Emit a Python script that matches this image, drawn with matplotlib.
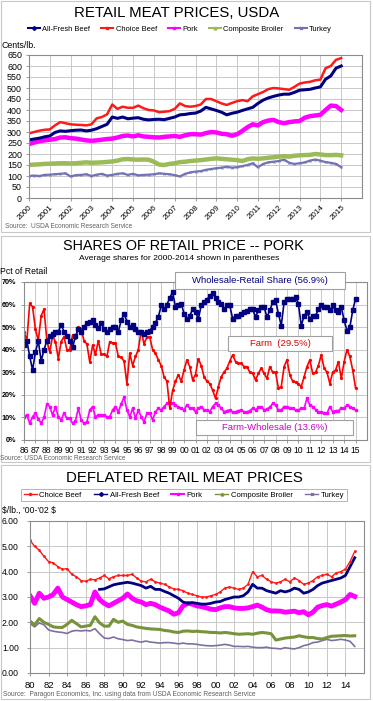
import numpy as np
import matplotlib
matplotlib.use('Agg')
import matplotlib.pyplot as plt
from matplotlib.lines import Line2D
from matplotlib.patches import Rectangle

plt.rcParams['font.family'] = ['Liberation Sans', 'DejaVu Sans']

W, H = 373, 701

# ---------------- Panel 1: retail meat prices (cents/lb), quarterly 2000-2015
p1_years = np.arange(2000, 2015.01, 0.25)
p1_choice = [294, 300, 306, 310, 312, 330, 345, 340, 335, 333, 332, 330,
             335, 362, 368, 380, 425, 405, 415, 410, 410, 420, 408, 400,
             398, 390, 392, 395, 405, 430, 418, 415, 418, 425, 450, 450,
             440, 430, 423, 432, 440, 445, 440, 462, 472, 482, 495, 500,
             498, 495, 492, 505, 520, 525, 528, 535, 538, 590, 600, 628,
             636]
p1_allfresh = [264, 268, 272, 278, 282, 298, 305, 303, 306, 308, 309, 305,
               308, 315, 325, 335, 368, 362, 368, 360, 363, 365, 358, 355,
               357, 358, 356, 362, 368, 378, 380, 384, 386, 395, 412, 405,
               398, 390, 378, 385, 390, 398, 405, 412, 430, 445, 455, 462,
               468, 472, 472, 480, 490, 492, 494, 500, 505, 540, 555, 590,
               600]
p1_pork = [245, 252, 258, 262, 265, 268, 275, 276, 272, 270, 266, 262,
           260, 262, 265, 268, 270, 275, 282, 284, 280, 285, 280, 278,
           276, 275, 278, 280, 282, 278, 285, 290, 290, 288, 295, 300,
           298, 292, 290, 283, 290, 305, 322, 335, 330, 345, 352, 355,
           345, 340, 345, 348, 350, 365, 372, 375, 378, 400, 420, 418,
           400]
p1_broiler = [150, 152, 153, 155, 156, 157, 158, 158, 157, 158, 160, 162,
              160, 161, 162, 164, 166, 170, 176, 177, 175, 174, 175, 174,
              165, 152, 150, 155, 158, 163, 165, 168, 170, 172, 175, 178,
              180, 178, 176, 174, 172, 168, 176, 180, 178, 180, 183, 185,
              188, 190, 188, 192, 194, 195, 196, 200, 198, 195, 195, 196,
              194]
p1_turkey = [100, 102, 100, 105, 106, 108, 110, 112, 98, 104, 105, 108,
             100, 106, 110, 102, 105, 110, 112, 105, 110, 103, 105, 106,
             108, 112, 110, 108, 104, 98, 110, 116, 120, 122, 128, 132,
             135, 138, 142, 138, 140, 145, 150, 158, 140, 155, 162, 165,
             168, 175, 160, 155, 158, 162, 170, 175, 170, 163, 160, 155,
             140]

# ---------------- Panel 2: shares of retail price, pork (%), quarterly 1986-2015
p2_years = np.arange(1986, 2015.01, 0.25)
p2_wholesale_retail = [
    42, 44, 37, 31, 39, 44, 35, 40, 44, 46, 47, 48, 48, 51, 48, 46,
    44, 41, 46, 49, 48, 50, 52, 52.5, 53, 51, 49.5, 52, 49, 48, 49, 50,
    50, 48, 53, 56, 52.5, 50, 51, 49, 48, 47.8, 47, 48, 48.5, 50, 52, 54.5,
    59.6, 58, 60, 63, 65.5, 59, 60, 60.4, 56, 53.7, 55, 58, 56.7, 53.7, 59.6, 61,
    62, 64, 65, 63, 61, 60.4, 58, 59.6, 59.6, 53.7, 55, 55, 56, 56.7, 57, 58,
    58, 54.5, 57.4, 59, 59, 54.5, 57.4, 61, 62, 56, 50.7, 61, 62.6, 62.6, 62.6, 63.3,
    60.4, 50.7, 55, 56.7, 53.7, 55, 55, 58, 59.6, 59, 59, 57.4, 59.6, 57.4, 56.7, 59,
    53, 48.5, 50, 57.4, 62.6]
p2_farm = [
    48, 44, 60.5, 59, 49, 44, 55, 58, 44, 39, 46, 43.6, 36, 43.6, 45.8, 40,
    40, 46.5, 45, 50, 49, 44, 42.5, 34.5, 42, 38, 44, 38, 38, 37, 43.6, 43,
    43, 37, 36.6, 35, 25, 38.4, 33, 37, 40, 48.5, 42.6, 45.6, 45.6, 40, 38.4, 35.5,
    33, 28, 26, 14, 22, 26, 29, 26, 31, 35.5, 32.5, 26.6, 29, 36, 33, 28,
    26, 25, 22, 18.5, 23.6, 28, 30, 31.8, 35, 37.7, 34.7, 34, 34, 32.5, 32.5, 30,
    29.5, 26.6, 29.5, 31.8, 29.5, 27.3, 32.5, 30, 30, 23, 23.6, 32.5, 35.5, 28.8, 26, 25.5,
    25, 23.6, 28, 32.5, 35.5, 29.5, 30, 33, 37.7, 31.8, 30, 25, 30, 31, 34.7, 27.3,
    34.7, 40, 37, 31, 23]
p2_farm_wholesale = [
    10.3, 11, 7.4, 10.3, 11.8, 9.5, 7.4, 10, 16, 14.8, 11, 14.8, 10.3, 8.9, 12, 9.6,
    9.6, 7.4, 8.5, 14, 9, 7.4, 8, 13.3, 14.8, 10.3, 11, 11, 11, 10.3, 10.3, 13.3,
    14.8, 12.5, 16, 19, 13.3, 10.3, 14, 9.6, 13.3, 10.3, 8, 11.8, 11.8, 8.9, 12.5, 14,
    13.3, 14.8, 16.2, 16.2, 16.2, 15.5, 14.5, 14, 13.3, 15.5, 14, 14, 12.5, 14, 14.8, 13.3,
    13.3, 12.5, 14.8, 16.2, 15.5, 14, 12.5, 13, 13.3, 12.5, 12.5, 13, 13.3, 12.5, 12.5, 13,
    14, 13.3, 14.5, 14.8, 13.3, 13.8, 14.5, 16.2, 15.5, 13.3, 13.3, 14.8, 14.8, 14, 14, 13.3,
    13.3, 14, 14, 18.5, 15.5, 14.8, 13.5, 12.5, 12.5, 12, 11.8, 14.8, 12.5, 13, 13, 14,
    14, 15.5, 14.8, 14, 13.3]

# ---------------- Panel 3: deflated retail prices ($/lb, '00-'02 $), half-yearly 1980-2015
p3_years = np.arange(1980, 2015.01, 0.5)
p3_choice = [5.24, 5.0, 4.85, 4.6, 4.4, 4.35, 4.2, 4.1, 4.12, 3.9,
             3.8, 3.65, 3.62, 3.7, 3.68, 3.75, 3.85, 3.72, 3.8, 3.85,
             3.85, 3.85, 3.9, 3.75, 3.62, 3.6, 3.7, 3.6, 3.55, 3.5,
             3.4, 3.32, 3.3, 3.25, 3.15, 3.1, 3.05, 3.0, 3.0, 3.05,
             3.1, 3.2, 3.35, 3.4, 3.35, 3.3, 3.35, 3.5, 4.0, 3.8,
             3.85, 3.7, 3.6, 3.55, 3.6, 3.7, 3.6, 3.75, 3.65, 3.5,
             3.55, 3.65, 3.8, 3.85, 3.9, 3.8, 3.95, 4.0, 4.1, 4.4,
             4.8]
p3_allfresh_start = 1987.5
p3_allfresh = [3.3, 3.32, 3.4, 3.48, 3.52, 3.55, 3.58, 3.55, 3.5, 3.45,
               3.35, 3.42, 3.3, 3.3, 3.22, 3.15, 3.05, 2.95, 2.8, 2.75,
               2.78, 2.75, 2.72, 2.72, 2.75, 2.8, 2.82, 2.9, 2.95, 3.0,
               3.0, 3.05, 3.2, 3.5, 3.35, 3.35, 3.25, 3.2, 3.15, 3.25,
               3.2, 3.25, 3.35, 3.3, 3.15, 3.2, 3.3, 3.45, 3.55, 3.6,
               3.65, 3.7, 3.75, 3.85, 4.2, 4.55]
p3_pork = [3.05, 2.75, 3.15, 2.95, 3.0, 3.1, 3.35, 3.0, 2.9, 2.8,
           2.7, 2.62, 2.65, 2.7, 3.2, 2.9, 2.75, 2.65, 2.75, 2.85,
           2.95, 3.12, 2.95, 2.85, 2.8, 2.7, 2.75, 2.7, 2.6, 2.52,
           2.45, 2.32, 2.38, 2.65, 2.75, 2.72, 2.65, 2.62, 2.57, 2.52,
           2.5, 2.57, 2.62, 2.62, 2.57, 2.55, 2.55, 2.57, 2.62, 2.68,
           2.6, 2.5, 2.45, 2.45, 2.44, 2.4, 2.42, 2.44, 2.38, 2.42,
           2.3, 2.4, 2.6, 2.66, 2.7, 2.64, 2.72, 2.8, 2.9, 3.1,
           3.02]
p3_broiler = [2.05, 1.9, 2.15, 2.0, 1.92, 1.82, 1.8, 1.8, 1.92, 2.08,
              1.95, 1.82, 1.85, 1.88, 2.22, 1.98, 1.85, 1.85, 2.12, 2.0,
              2.05, 1.92, 1.88, 1.82, 1.79, 1.76, 1.74, 1.73, 1.72, 1.68,
              1.66, 1.62, 1.6, 1.65, 1.66, 1.64, 1.65, 1.63, 1.62, 1.6,
              1.6, 1.58, 1.6, 1.58, 1.55, 1.53, 1.54, 1.55, 1.53, 1.57,
              1.6, 1.58, 1.55, 1.3, 1.34, 1.38, 1.4, 1.42, 1.47, 1.43,
              1.4, 1.4, 1.36, 1.34, 1.4, 1.45, 1.46, 1.47, 1.48, 1.46,
              1.47]
p3_turkey = [1.95, 1.82, 1.98, 1.9, 1.7, 1.65, 1.62, 1.6, 1.56, 1.65,
             1.68, 1.66, 1.68, 1.66, 1.75, 1.55, 1.38, 1.36, 1.42, 1.35,
             1.32, 1.28, 1.3, 1.25, 1.22, 1.26, 1.22, 1.2, 1.18, 1.2,
             1.2, 1.18, 1.15, 1.18, 1.15, 1.15, 1.13, 1.1, 1.08, 1.07,
             1.08, 1.1, 1.13, 1.1, 1.05, 1.05, 1.04, 1.05, 1.02, 1.0,
             1.0, 1.02, 0.98, 0.97, 0.95, 1.0, 0.97, 0.95, 1.0, 1.08,
             1.12, 1.2, 1.22, 1.28, 1.33, 1.28, 1.3, 1.33, 1.3, 1.25,
             1.05]

NAVY = '#000080'
RED = '#ff1a1a'
PINK = '#ff00ff'
GREEN = '#9bbb59'
TURKEY = '#7272b4'
GRID = '#c8c8c8'
SPINE = '#8c8c8c'


def rect(x0, y0, x1, y1):
    # pixel box -> figure fraction [l, b, w, h]
    return [x0 / W, 1 - y1 / H, (x1 - x0) / W, (y1 - y0) / H]


def style_axes(ax):
    for s in ax.spines.values():
        s.set_color(SPINE)
        s.set_linewidth(0.8)
    ax.grid(True, color=GRID, linewidth=0.7)
    ax.set_axisbelow(True)
    ax.tick_params(length=2, width=0.6, color=SPINE, pad=2)


fig = plt.figure(figsize=(W / 100, H / 100), dpi=100)

# panel frames
for y0, y1 in [(1, 232), (236, 462), (465, 699)]:
    fig.patches.append(Rectangle((1 / W, 1 - y1 / H), 369 / W, (y1 - y0) / H,
                                 transform=fig.transFigure, fill=False,
                                 edgecolor='#c8c8c8', linewidth=0.8))

# ================= Panel 1
ax1 = fig.add_axes(rect(29, 55, 362, 198))
ax1.plot(p1_years, p1_turkey, color=TURKEY, lw=1.6, marker='x', ms=1.5, mew=0.5)
ax1.plot(p1_years, p1_broiler, color=GREEN, lw=3.2)
ax1.plot(p1_years, p1_pork, color=PINK, lw=3.2)
ax1.plot(p1_years, p1_allfresh, color=NAVY, lw=2.2)
ax1.plot(p1_years, p1_choice, color=RED, lw=1.8)
ax1.set_xlim(2000, 2016)
ax1.set_ylim(0, 650)
ax1.set_yticks(np.arange(0, 651, 50))
ax1.set_xticks(np.arange(2000, 2016))
ax1.set_xticklabels([str(y) for y in range(2000, 2016)], rotation=45,
                    ha='right', rotation_mode='anchor', fontsize=5.8)
style_axes(ax1)
ax1.tick_params(axis='y', labelsize=6.4, pad=3)

fig.text(177 / W, 1 - 13 / H, 'RETAIL MEAT PRICES, USDA',
         ha='center', va='center', fontsize=10.8)
fig.text(2 / W, 1 - 45 / H, 'Cents/lb.', fontsize=6.3, va='center')
fig.text(5 / W, 1 - 227 / H, 'Source:  USDA Economic Research Service',
         fontsize=4.7, color='#606060', va='center')

h1 = [Line2D([], [], color=NAVY, lw=1.5, marker='D', ms=2),
      Line2D([], [], color=RED, lw=1.5, marker='s', ms=2),
      Line2D([], [], color=PINK, lw=1.5, marker='s', ms=2),
      Line2D([], [], color=GREEN, lw=1.5, marker='^', ms=2),
      Line2D([], [], color=TURKEY, lw=1.5, marker='x', ms=2)]
fig.legend(h1, ['All-Fresh Beef', 'Choice Beef', 'Pork', 'Composite Broiler', 'Turkey'],
           loc='center', bbox_to_anchor=(180 / W, 1 - 29 / H), ncol=5,
           frameon=False, fontsize=5.4, handlelength=1.6, handletextpad=0.3,
           columnspacing=1.5, borderpad=0)

# ================= Panel 2
ax2 = fig.add_axes(rect(24, 282, 367, 440))
ax2.plot(p2_years, p2_farm_wholesale, color=PINK, lw=1.2, marker='s', ms=1.6)
ax2.plot(p2_years, p2_farm, color='#ff0000', lw=1.2, marker='o', ms=1.3)
ax2.plot(p2_years, p2_wholesale_retail, color=NAVY, lw=1.2, marker='s', ms=2.2)
ax2.set_xlim(1986, 2016)
ax2.set_ylim(0, 70)
ax2.set_yticks(np.arange(0, 71, 10))
ax2.set_yticklabels([f'{v}%' for v in range(0, 71, 10)], fontsize=5.2,
                    fontweight='bold')
ax2.set_xticks(np.arange(1986, 2016))
ax2.set_xticklabels([f'{y % 100:02d}' for y in range(1986, 2016)], fontsize=6.2)
style_axes(ax2)
ax2.tick_params(axis='y', pad=3.5)

fig.text(183 / W, 1 - 246 / H, 'SHARES OF RETAIL PRICE -- PORK',
         ha='center', va='center', fontsize=10.4)
fig.text(179 / W, 1 - 259 / H, 'Average shares for 2000-2014 shown in parentheses',
         ha='center', va='center', fontsize=6.1)
fig.text(0 / W, 1 - 272 / H, 'Pct of Retail', fontsize=6.3, va='center')
fig.text(0 / W, 1 - 458 / H, 'Source: USDA Economic Research Service',
         fontsize=4.7, color='#606060', va='center')

for (x0, y0, x1, y1), label, col in [
        ((175, 272, 345, 289), 'Wholesale-Retail Share (56.9%)', NAVY),
        ((228, 336, 332, 351), 'Farm  (29.5%)', '#e00000'),
        ((196, 420, 353, 435), 'Farm-Wholesale (13.6%)', '#cc00cc')]:
    fig.patches.append(Rectangle((x0 / W, 1 - y1 / H), (x1 - x0) / W, (y1 - y0) / H,
                                 transform=fig.transFigure, facecolor='white',
                                 edgecolor='#a0a0a0', linewidth=0.8))
    fig.text((x0 + x1) / 2 / W, 1 - (y0 + y1) / 2 / H, label, color=col,
             ha='center', va='center', fontsize=6.8)

# ================= Panel 3
ax3 = fig.add_axes(rect(30, 521, 364, 673))
ax3.plot(p3_years, p3_turkey, color='#7f6f9f', lw=1.2)
ax3.plot(p3_years, p3_broiler, color='#77933c', lw=2.2)
ax3.plot(p3_years, p3_pork, color=PINK, lw=3.5)
ax3.plot(p3_years[p3_years >= p3_allfresh_start], p3_allfresh, color=NAVY, lw=2.0)
ax3.plot(p3_years, p3_choice, color=RED, lw=1.0, marker='o', ms=1)
ax3.set_xlim(1980, 2016)
ax3.set_ylim(0, 6)
ax3.set_yticks(np.arange(0, 7, 1))
ax3.set_yticklabels([f'{v:.2f}' for v in range(0, 7)], fontsize=6.2)
ax3.set_xticks(np.arange(1980, 2016, 2))
ax3.set_xticklabels([f'{y % 100:02d}' for y in range(1980, 2016, 2)], fontsize=6.8)
style_axes(ax3)
ax3.tick_params(axis='y', pad=6)
ax3.tick_params(axis='x', pad=4)

fig.text(184 / W, 1 - 478 / H, 'DEFLATED RETAIL MEAT PRICES',
         ha='center', va='center', fontsize=10.8)
fig.text(2 / W, 1 - 510 / H, r"\$/lb., '00-'02 \$", fontsize=6.2, va='center')
fig.text(3 / W, 1 - 694 / H,
         'Source:  Paragon Economics, Inc. using data from USDA Economic Research Service',
         fontsize=4.8, color='#606060', va='center')

h3 = [Line2D([], [], color=RED, lw=1, marker='o', ms=1.5),
      Line2D([], [], color=NAVY, lw=1, marker='D', ms=2),
      Line2D([], [], color=PINK, lw=1.5, marker='s', ms=2),
      Line2D([], [], color='#77933c', lw=1, marker='^', ms=2),
      Line2D([], [], color='#7f6f9f', lw=1, marker='x', ms=2)]
leg3 = fig.legend(h3, ['Choice Beef', 'All-Fresh Beef', 'Pork', 'Composite Broiler', 'Turkey'],
                  loc='center', bbox_to_anchor=(184 / W, 1 - 495 / H), ncol=5,
                  frameon=True, fancybox=False, fontsize=5.6, handlelength=1.7,
                  handletextpad=0.3, columnspacing=1.6, borderpad=0.35)
leg3.get_frame().set_edgecolor('#a0a0a0')
leg3.get_frame().set_linewidth(0.7)

fig.savefig('out.png', dpi=100)
